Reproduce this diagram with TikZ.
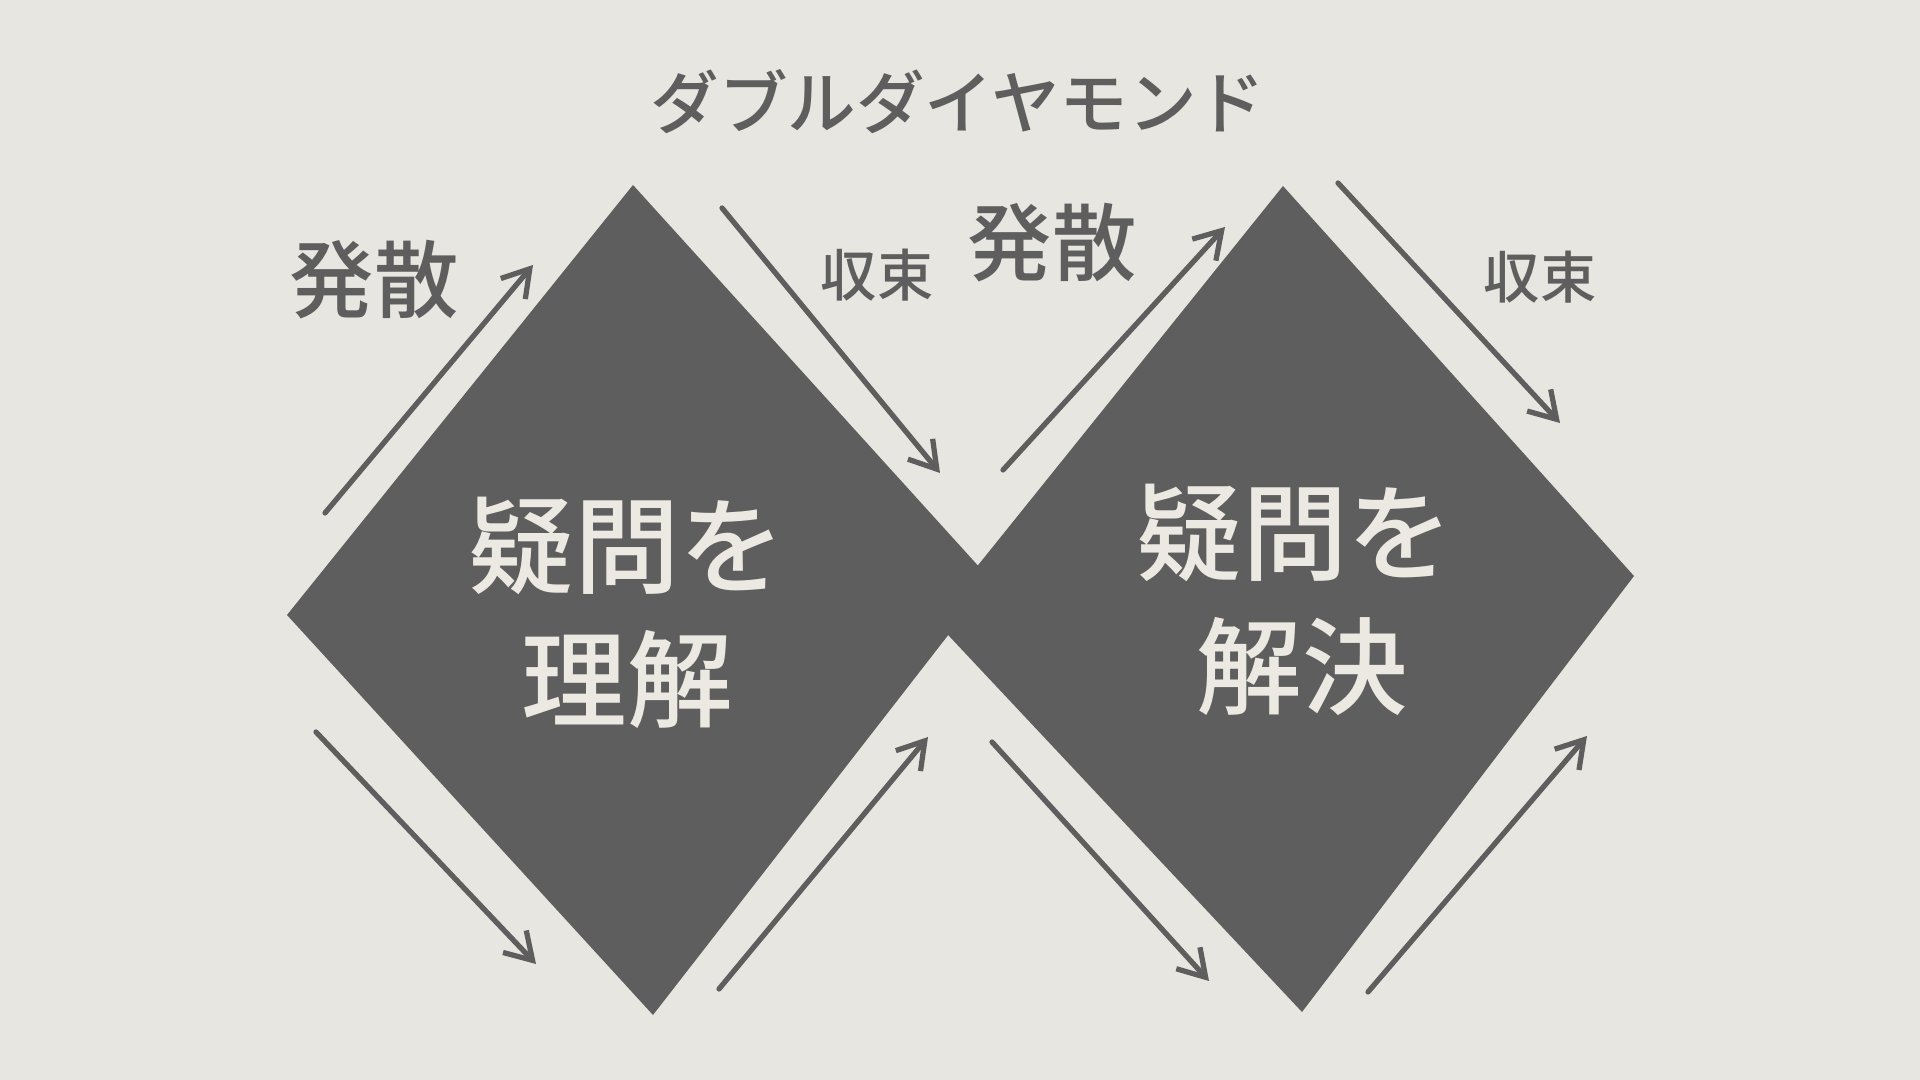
\documentclass[tikz,border=0pt]{standalone}
\usepackage{fontspec}
\newfontfamily\jpfont{Noto Sans CJK JP Medium}
\usetikzlibrary{arrows.meta}
\definecolor{paper}{HTML}{E8E6E0}
\definecolor{ink}{HTML}{5E5E5E}
\definecolor{chalk}{HTML}{ECE9E2}

\begin{document}
\begin{tikzpicture}[
  x=0.01cm, y=-0.01cm,
  gem/.style={fill=ink},
  flow/.style={-{Straight Barb[length=2.6mm, width=3.2mm]}, line width=1.5pt,
               ink, line cap=round},
  title/.style={font=\jpfont\fontsize{19.5}{20}\selectfont, text=ink},
  spread/.style={font=\jpfont\fontsize{24}{24}\selectfont, text=ink},
  focus/.style={font=\jpfont\fontsize{16}{16}\selectfont, text=ink},
  inside/.style={font=\jpfont\fontsize{30}{38}\selectfont, text=chalk,
                 align=center}
]
\useasboundingbox[fill=paper] (0,0) rectangle (1920,1080);

\coordinate (und-top) at (633,185);
\coordinate (und-right) at (991,580);
\coordinate (und-bottom) at (653,1015);
\coordinate (und-left) at (287,615);
\coordinate (sol-top) at (1283,186);
\coordinate (sol-right) at (1634,576);
\coordinate (sol-bottom) at (1302,1012);
\coordinate (sol-left) at (934,620);

\fill[gem] (und-top) -- (und-right) -- (und-bottom) -- (und-left) -- cycle;
\fill[gem] (sol-top) -- (sol-right) -- (sol-bottom) -- (sol-left) -- cycle;

\node[title] (heading) at (958,102) {ダブルダイヤモンド};

\node[inside] (und-text) at (627,613) {疑問を\\理解};
\node[inside] (sol-text) at (1295,600) {疑問を\\\hspace{4pt}解決};

\node[spread] (und-div) at (374,280) {発散};
\node[focus] (und-conv) at (877,275) {収束};
\node[spread] (sol-div) at (1052,243) {発散};
\node[focus] (sol-conv) at (1540,277) {収束};

\coordinate (a1s) at (325,513);  \coordinate (a1e) at (533,265);
\coordinate (a2s) at (722,208);  \coordinate (a2e) at (940,473);
\coordinate (a3s) at (1003,470); \coordinate (a3e) at (1225,227);
\coordinate (a4s) at (1338,183); \coordinate (a4e) at (1560,423);
\coordinate (b1s) at (316,732);  \coordinate (b1e) at (536,964);
\coordinate (b2s) at (719,989);  \coordinate (b2e) at (928,737);
\coordinate (b3s) at (992,742);  \coordinate (b3e) at (1209,981);
\coordinate (b4s) at (1368,992); \coordinate (b4e) at (1587,736);

\draw[flow] (a1s) -- (a1e);
\draw[flow] (a2s) -- (a2e);
\draw[flow] (a3s) -- (a3e);
\draw[flow] (a4s) -- (a4e);
\draw[flow] (b1s) -- (b1e);
\draw[flow] (b2s) -- (b2e);
\draw[flow] (b3s) -- (b3e);
\draw[flow] (b4s) -- (b4e);
\end{tikzpicture}
\end{document}
